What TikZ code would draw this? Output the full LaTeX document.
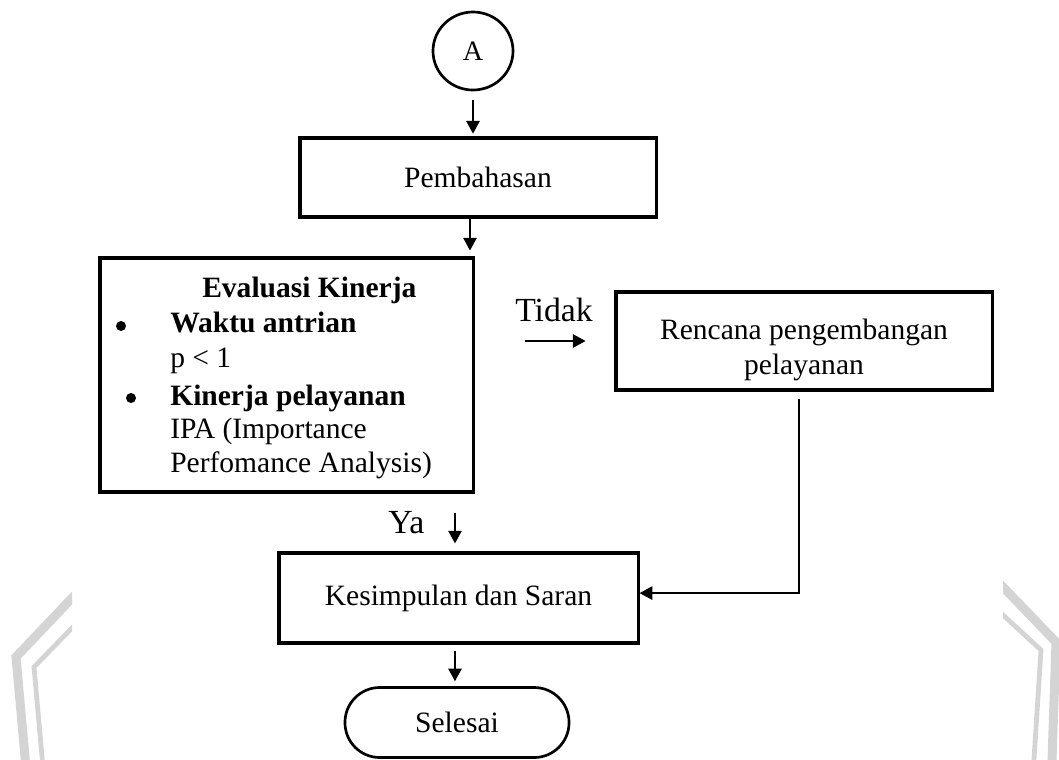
\documentclass[tikz,border=0pt]{standalone}
\usepackage{fontspec}
\setmainfont{Liberation Serif}
\usetikzlibrary{shapes.geometric,arrows.meta}
\definecolor{wmgray}{RGB}{212,212,212}
\tikzset{
  box/.style={draw, rectangle, line width=2.2pt, inner sep=0pt, align=center, font=\fontsize{21}{25.5}\selectfont},
  txt/.style={inner sep=0pt, font=\fontsize{21}{25}\selectfont},
  lbl/.style={inner sep=0pt, anchor=base west, font=\fontsize{24}{28}\selectfont},
  bullet/.style={circle, fill, inner sep=0pt, minimum size=0.25cm},
  arr/.style={-{Triangle[length=9pt,width=9.5pt]}, line width=1.2pt},
}
\begin{document}
\begin{tikzpicture}[x=0.025cm,y=-0.025cm]
\useasboundingbox (0,0) rectangle (1059,759);
% Watermark, left corner
\begin{scope}
  \clip (0,0) rectangle (72,759);
  \draw[wmgray, line width=0.225cm] (82,587.5) -- (16,657) -- (28,790);
  \draw[wmgray, line width=0.12cm] (82,617.7) -- (34,667) -- (45,790);
\end{scope}
% Watermark, right corner
\begin{scope}
  \clip (1003,0) rectangle (1059,759);
  \draw[wmgray, line width=0.225cm] (993,576.6) -- (1056,642) -- (1051,790);
  \draw[wmgray, line width=0.12cm] (993,605.8) -- (1041,650) -- (1032,790);
\end{scope}
% Start
\node[draw, ellipse, line width=1.9pt, inner sep=0pt, minimum width=2.0cm, minimum height=1.95cm, font=\fontsize{20}{24}\selectfont] (a) at (473,51) {A};
% Boxes
\node[box, minimum width=8.9cm, minimum height=1.975cm] (pemb) at (478,177.5) {Pembahasan};
\node[box, minimum width=9.325cm, minimum height=5.85cm] (eval) at (286.5,375) {};
\node[box, minimum width=9.4cm, minimum height=2.45cm] (renc) at (804,341) {};
\node[txt, align=center] (renctext) at (804,350) {Rencana pengembangan\\pelayanan};
\node[box, minimum width=8.975cm, minimum height=2.25cm] (kes) at (458.5,598) {Kesimpulan dan Saran};
% End
\node[draw, rectangle, rounded corners=0.87cm, line width=1.9pt, inner sep=0pt, minimum width=5.6cm, minimum height=1.75cm, font=\fontsize{21}{25}\selectfont] (sel) at (457,722.5) {Selesai};
% Text inside the evaluation box
\node[txt, anchor=base west] (evtitle) at (202,297) {\bfseries Evaluasi Kinerja};
\node[bullet] (dot1) at (121,326) {};
\node[txt, anchor=base west] (waktu) at (170,332) {\bfseries Waktu antrian};
\node[txt, anchor=base west] (rho) at (170,367) {p < 1};
\node[bullet] (dot2) at (131,398) {};
\node[txt, anchor=base west] (kinerja) at (170,405) {\bfseries Kinerja pelayanan};
\node[txt, anchor=base west] (ipa) at (170,438) {IPA (Importance};
\node[txt, anchor=base west] (ipb) at (170,472) {Perfomance Analysis)};
% Branch labels
\node[lbl] (tidak) at (515,321) {Tidak};
\node[lbl] (ya) at (388,533) {Ya};
% Arrows
\draw[arr, shorten <=6pt, shorten >=2pt] (a.south) -- (a.south |- pemb.north);
\draw[arr, shorten >=4.2pt] ([xshift=-5.7pt]pemb.south) -- ([xshift=-5.7pt]pemb.south |- eval.north);
\draw[arr, shorten <=36pt, shorten >=20.5pt] (eval.east |- renc.west) -- (renc.west);
\draw[arr, shorten <=14pt, shorten >=5.7pt] ([xshift=-2.5pt]kes.north |- eval.south) -- ([xshift=-2.5pt]kes.north);
\draw[arr, line width=0.9pt, shorten <=5pt] ([xshift=-3.5pt]renc.south) |- ([yshift=3.5pt]kes.east);
\draw[arr, shorten <=4.5pt, shorten >=3.5pt] ([xshift=-2.5pt]kes.south) -- ([xshift=-2.5pt]kes.south |- sel.north);
\end{tikzpicture}
\end{document}
